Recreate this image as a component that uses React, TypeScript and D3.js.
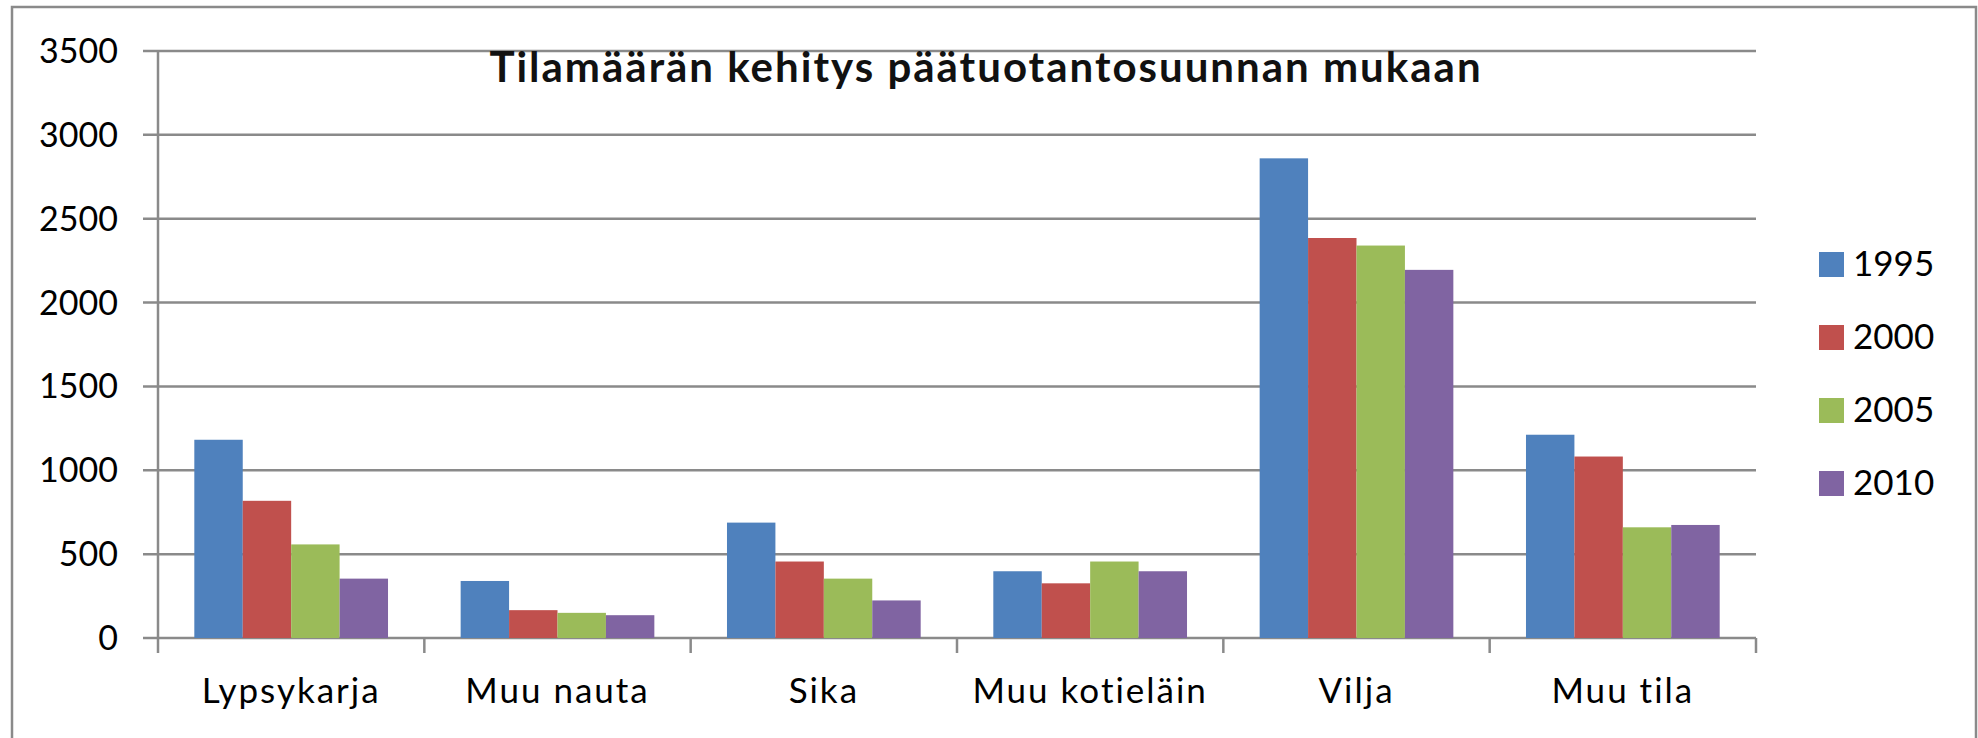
import React from 'react';
import * as d3 from 'd3';

const categories = ['Lypsykarja', 'Muu nauta', 'Sika', 'Muu kotieläin', 'Vilja', 'Muu tila'];
const years = ['1995', '2000', '2005', '2010'];
const values1995 = [1182, 340, 688, 398, 2860, 1212];
const values2000 = [818, 166, 456, 326, 2385, 1082];
const values2005 = [558, 150, 354, 456, 2340, 660];
const values2010 = [354, 136, 224, 398, 2195, 674];
const yTicks = [0, 500, 1000, 1500, 2000, 2500, 3000, 3500];
const colors = ['#4F81BD', '#C0504D', '#9BBB59', '#8064A2'];

const series = [values1995, values2000, values2005, values2010];

export default function App() {
    const width = 1978, height = 738;
    const font = 'Lato, "Open Sans", sans-serif';
    const gridColor = '#8a8a8a';

    const x = d3.scaleBand().domain(categories).range([158, 1756]).padding(0);
    // Excel-style gap width 150%: 0.75 bar width on each side of the group
    const xInner = d3.scaleBand().domain(years).range([0, x.bandwidth()]).paddingInner(0).paddingOuter(0.75);
    const y = d3.scaleLinear().domain([0, 3500]).range([638, 51]);

    const axisLeft = x.range()[0];
    const axisRight = x.range()[1];

    return (
        <svg width={width} height={height} style={{position: 'absolute', left: 0, top: 0, display: 'block'}}>
            <rect x={0} y={0} width={width} height={height} fill="#ffffff"/>
            {/* chart frame, open at the bottom */}
            <path d={'M12,' + height + ' L12,7 L1976,7 L1976,' + height} fill="none" stroke={gridColor} strokeWidth={2.5}/>

            {/* gridlines with ticks */}
            {yTicks.map(t => (
                <line key={'g' + t} x1={axisLeft - 15} x2={axisRight} y1={y(t)} y2={y(t)} stroke={gridColor} strokeWidth={2.5}/>
            ))}

            {/* title */}
            <text x={986} y={82} textAnchor="middle" fontFamily={font} fontWeight={700} fontSize={42}
                  letterSpacing={2} fill="#111">
                Tilamäärän kehitys päätuotantosuunnan mukaan
            </text>

            {/* bars */}
            {series.map((vals, si) => (
                <g key={'s' + si} fill={colors[si]}>
                    {categories.map((c, ci) => (
                        <rect key={c}
                              x={(x(c) || 0) + (xInner(years[si]) || 0)}
                              y={y(vals[ci])}
                              width={xInner.bandwidth()}
                              height={y(0) - y(vals[ci])}/>
                    ))}
                </g>
            ))}

            {/* y axis */}
            <line x1={axisLeft} x2={axisLeft} y1={y(3500)} y2={y(0) + 15} stroke={gridColor} strokeWidth={2.5}/>
            {/* category ticks */}
            {categories.map(c => (
                <line key={'t' + c} x1={(x(c) || 0) + x.bandwidth()} x2={(x(c) || 0) + x.bandwidth()}
                      y1={y(0)} y2={y(0) + 15} stroke={gridColor} strokeWidth={2.5}/>
            ))}

            {/* y labels */}
            {yTicks.map(t => (
                <text key={'l' + t} x={118} y={y(t) + 12} textAnchor="end" fontFamily={font} fontSize={34} fill="#000">
                    {t}
                </text>
            ))}

            {/* category labels */}
            {categories.map(c => (
                <text key={'c' + c} x={(x(c) || 0) + x.bandwidth() / 2} y={703} textAnchor="middle"
                      fontFamily={font} fontSize={35} letterSpacing={2} fill="#000">
                    {c}
                </text>
            ))}

            {/* legend */}
            {years.map((yr, i) => (
                <g key={'lg' + yr} transform={'translate(1819,' + (252 + i * 73) + ')'}>
                    <rect x={0} y={0} width={25} height={25} fill={colors[i]}/>
                    <text x={34} y={24} fontFamily={font} fontSize={35} fill="#000">{yr}</text>
                </g>
            ))}
        </svg>
    );
}
